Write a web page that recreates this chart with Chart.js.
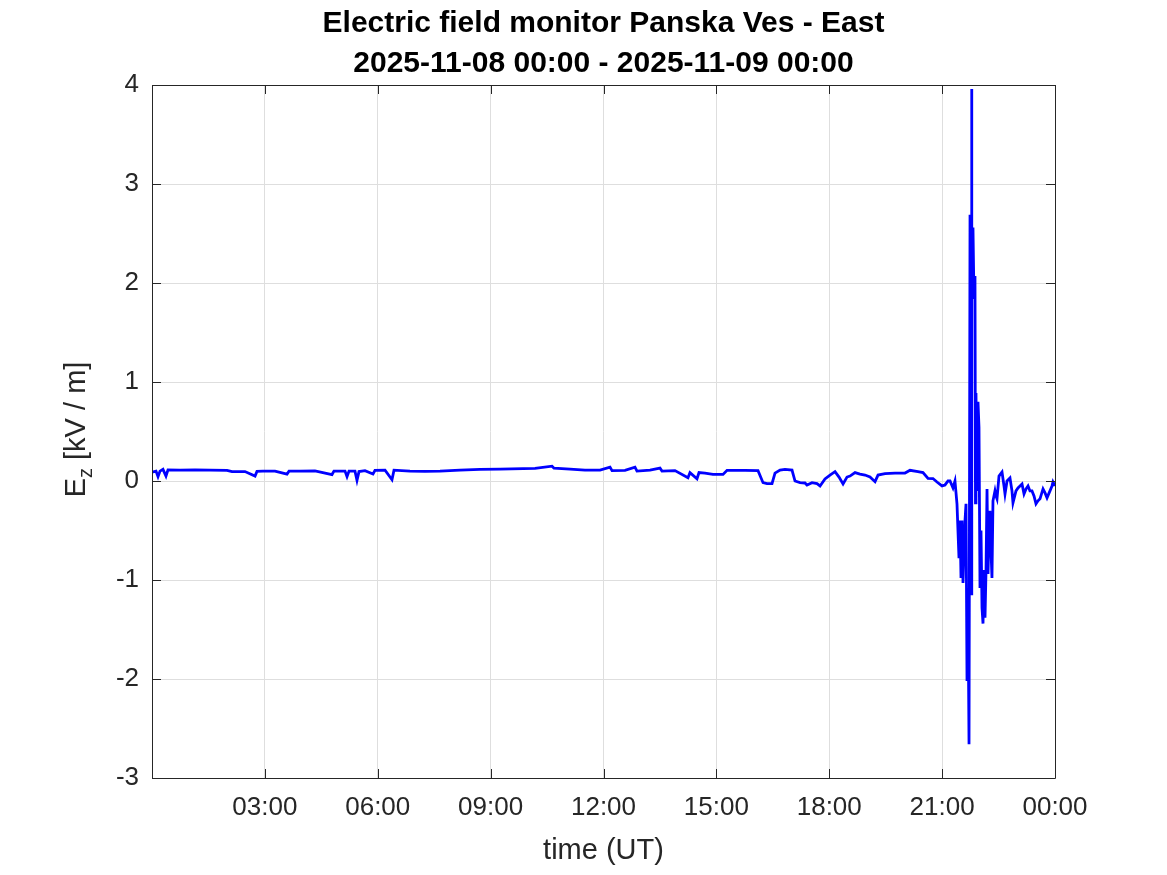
<!DOCTYPE html>
<html>
<head>
<meta charset="utf-8">
<title>Electric field monitor Panska Ves - East</title>
<script src="https://cdn.jsdelivr.net/npm/chart.js@4/dist/chart.umd.min.js"></script>
<style>
  html, body { margin: 0; padding: 0; background: #fff; }
  canvas { display: block; }
</style>
</head>
<body>
<canvas id="efield" width="1167" height="875"></canvas>
<script>
// Ez readings, 2025-11-08.
// times = minutes since 00:00 UT, values = kV/m
const times = [
  0, 6.4, 9.6, 12.8, 17.5, 22.3, 25.5, 44.7, 68.6, 92.5,
  119.6, 127.6, 148.3, 164.3, 167.4, 177.0, 196.1, 215.3, 218.5, 236.0,
  259.9, 287.0, 290.2, 307.8, 311.0, 314.2, 323.7, 326.9, 330.1, 339.7,
  352.4, 355.6, 371.6, 382.7, 385.9, 411.4, 435.3, 459.3, 491.2, 523.0,
  555.0, 591.6, 610.8, 637.9, 641.1, 666.6, 690.5, 714.5, 730.4, 733.6,
  754.3, 770.2, 773.4, 794.2, 810.1, 813.3, 834.0, 854.7, 857.9, 869.1,
  872.3, 881.8, 894.6, 910.6, 917.0, 945.7, 966.4, 974.4, 980.8, 988.7,
  993.5, 1001.5, 1009.4, 1020.6, 1025.4, 1033.4, 1041.3, 1044.5, 1052.5, 1060.5,
  1065.3, 1073.2, 1081.2, 1089.2, 1095.6, 1102.0, 1108.3, 1113.1, 1121.1, 1129.0,
  1137.0, 1145.0, 1153.0, 1157.8, 1168.9, 1184.9, 1200.8, 1208.8, 1221.5, 1229.5,
  1237.5, 1245.4, 1251.8, 1259.8, 1264.6, 1269.4, 1272.6, 1277.3, 1280.5, 1283.7,
  1286.9, 1288.5, 1290.1, 1291.7, 1293.3, 1296.5, 1298.1, 1299.7, 1301.3, 1302.9,
  1304.5, 1306.1, 1306.9, 1307.6, 1309.2, 1310.8, 1312.4, 1313.2, 1314.0, 1315.6,
  1317.2, 1318.8, 1320.4, 1322.0, 1323.6, 1325.2, 1326.8, 1328.4, 1330.0, 1331.6,
  1333.2, 1334.8, 1336.3, 1337.9, 1339.5, 1341.1, 1344.3, 1345.9, 1347.5, 1350.7,
  1355.5, 1358.7, 1360.3, 1363.5, 1368.2, 1371.4, 1373.0, 1377.8, 1381.0, 1384.2,
  1387.4, 1390.6, 1393.8, 1397.0, 1400.1, 1403.3, 1406.5, 1409.7, 1412.9, 1416.1,
  1420.9, 1424.1, 1427.3, 1432.0, 1435.2, 1436.8, 1440
];
const ezValues = [
  0.09, 0.10, 0.044, 0.10, 0.118, 0.05, 0.112, 0.11, 0.112, 0.11,
  0.108, 0.095, 0.095, 0.05, 0.097, 0.10, 0.10, 0.07, 0.10, 0.10,
  0.102, 0.065, 0.10, 0.10, 0.044, 0.10, 0.10, 0.007, 0.095, 0.105,
  0.07, 0.108, 0.11, 0.013, 0.11, 0.10, 0.098, 0.10, 0.11, 0.118,
  0.12, 0.125, 0.128, 0.15, 0.13, 0.12, 0.11, 0.11, 0.14, 0.105,
  0.108, 0.14, 0.10, 0.11, 0.13, 0.10, 0.105, 0.033, 0.085, 0.023,
  0.085, 0.08, 0.067, 0.067, 0.108, 0.108, 0.105, -0.017, -0.027, -0.027,
  0.08, 0.11, 0.118, 0.11, 0.0, -0.017, -0.02, -0.04, -0.017, -0.027,
  -0.05, 0.02, 0.06, 0.094, 0.04, -0.03, 0.04, 0.05, 0.085, 0.07,
  0.06, 0.04, -0.007, 0.06, 0.074, 0.08, 0.08, 0.108, 0.095, 0.085,
  0.027, 0.025, -0.01, -0.05, -0.04, 0.0, 0.0, -0.07, 0.0, -0.23,
  -0.78, -0.4, -0.98, -0.4, -1.03, -0.4, -0.23, -2.02, -1.24, -2.66,
  2.69, -1.14, 3.96, 1.91, 2.56, 1.84, 2.07, -0.22, 0.89, -0.1,
  0.8, 0.54, -1.08, -0.5, -1.28, -1.44, -0.9, -1.38, -0.9, -0.08,
  -0.94, -0.5, -0.3, -0.7, -0.98, -0.2, -0.1, -0.15, -0.18, 0.05,
  0.09, -0.05, -0.13, 0.0, 0.03, -0.1, -0.22, -0.1, -0.07, -0.05,
  -0.03, -0.13, -0.08, -0.05, -0.1, -0.1, -0.15, -0.23, -0.2, -0.18,
  -0.08, -0.12, -0.17, -0.1, -0.05, -0.01, -0.05
];
const xTickStep = 180;          // every 3 hours
const yTicks = [-3, -2, -1, 0, 1, 2, 3, 4];
const titleLines = ['Electric field monitor Panska Ves - East', '2025-11-08 00:00 - 2025-11-09 00:00'];

const FONT = "'Liberation Sans', Arial, Helvetica, sans-serif";
const AXIS_COLOR = '#262626';
const GRID_COLOR = '#dedede';

function hhmm(m) {
  const h = Math.floor(m / 60) % 24;
  const mm = Math.round(m % 60);
  return String(h).padStart(2, '0') + ':' + String(mm).padStart(2, '0');
}

// MATLAB-like box with inward ticks, title centred on the axes, E_z label
const boxPlugin = {
  id: 'box',
  afterDraw(chart) {
    const {ctx, chartArea: a, scales: {x, y}} = chart;
    const tl = 9;
    ctx.save();
    ctx.strokeStyle = AXIS_COLOR;
    ctx.lineWidth = 1;
    ctx.beginPath();
    ctx.rect(Math.round(a.left) + 0.5, Math.round(a.top) + 0.5,
             Math.round(a.right - a.left), Math.round(a.bottom - a.top));
    x.ticks.forEach(t => {
      const px = Math.round(x.getPixelForValue(t.value)) + 0.5;
      ctx.moveTo(px, a.bottom); ctx.lineTo(px, a.bottom - tl);
      ctx.moveTo(px, a.top); ctx.lineTo(px, a.top + tl);
    });
    y.ticks.forEach(t => {
      const py = Math.round(y.getPixelForValue(t.value)) + 0.5;
      ctx.moveTo(a.left, py); ctx.lineTo(a.left + tl, py);
      ctx.moveTo(a.right, py); ctx.lineTo(a.right - tl, py);
    });
    ctx.stroke();

    // title
    ctx.fillStyle = '#000';
    ctx.textAlign = 'center';
    ctx.textBaseline = 'middle';
    ctx.font = 'bold 30px ' + FONT;
    const cxTitle = (a.left + a.right) / 2;
    ctx.fillText(titleLines[0], cxTitle, 24);
    ctx.fillText(titleLines[1], cxTitle, 64);

    // y axis label
    const big = '29px ' + FONT, small = '20px ' + FONT;
    ctx.fillStyle = AXIS_COLOR;
    ctx.textAlign = 'left';
    ctx.textBaseline = 'alphabetic';
    ctx.font = big;
    const wE = ctx.measureText('E').width;
    const wRest = ctx.measureText(' [kV / m]').width;
    ctx.font = small;
    const wZ = ctx.measureText('z').width;
    const total = wE + wZ + wRest;
    ctx.translate(85, (a.top + a.bottom) / 2 - 2);
    ctx.rotate(-Math.PI / 2);
    let cx = -total / 2;
    ctx.font = big;
    ctx.fillText('E', cx, 0); cx += wE;
    ctx.font = small;
    ctx.fillText('z', cx, 7); cx += wZ;
    ctx.font = big;
    ctx.fillText(' [kV / m]', cx, 0);
    ctx.restore();
  }
};

const points = times.map((t, i) => ({x: t, y: ezValues[i]}));

new Chart(document.getElementById('efield'), {
  type: 'line',
  data: {
    datasets: [{
      data: points,
      borderColor: '#0000ff',
      borderWidth: 2.8,
      pointRadius: 0,
      tension: 0,
      fill: false
    }]
  },
  options: {
    responsive: false,
    animation: false,
    devicePixelRatio: 1,
    layout: {padding: {left: 0, right: 112, top: 85, bottom: 0}},
    plugins: {
      legend: {display: false},
      tooltip: {enabled: false},
      title: {display: false}
    },
    scales: {
      x: {
        type: 'linear',
        min: 0, max: 1440,
        afterFit: s => { s.height = 97; },
        grid: {color: GRID_COLOR, drawTicks: false, lineWidth: 1},
        border: {display: false},
        ticks: {
          stepSize: xTickStep,
          padding: 14,
          color: AXIS_COLOR,
          maxRotation: 0,
          autoSkip: false,
          font: {family: FONT, size: 26},
          callback: v => (v === 0 ? '' : hhmm(v))
        },
        title: {
          display: true,
          text: 'time (UT)',
          color: AXIS_COLOR,
          font: {family: FONT, size: 29},
          padding: {top: 0, bottom: 7}
        }
      },
      y: {
        type: 'linear',
        min: yTicks[0], max: yTicks[yTicks.length - 1],
        afterFit: s => { s.width = 152; },
        afterBuildTicks: s => { s.ticks = yTicks.map(v => ({value: v})); },
        grid: {color: GRID_COLOR, drawTicks: false, lineWidth: 1},
        border: {display: false},
        ticks: {
          padding: 13,
          color: AXIS_COLOR,
          font: {family: FONT, size: 26},
          callback: v => String(v)
        }
      }
    }
  },
  plugins: [boxPlugin]
});
</script>
</body>
</html>
